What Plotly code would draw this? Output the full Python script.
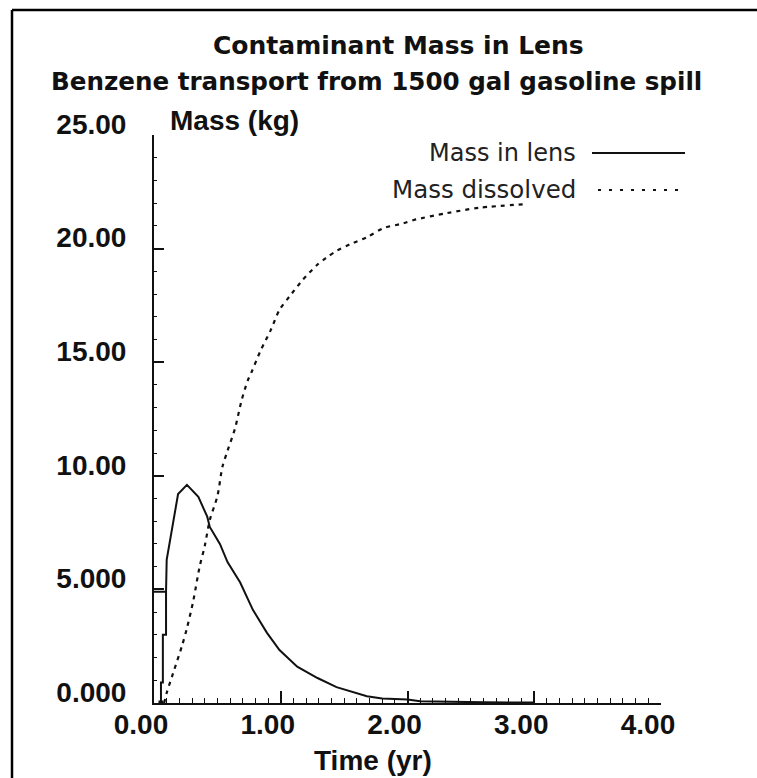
import plotly.graph_objects as go

# ---- data ----
lens_t = [0.055, 0.055, 0.07, 0.07, 0.095, 0.095, 0.0, 0.095, 0.10, 0.15, 0.19, 0.26,
          0.35, 0.42, 0.44, 0.52, 0.58, 0.68, 0.78, 0.89, 0.99, 1.13, 1.29, 1.44,
          1.57, 1.68, 1.80, 2.00, 2.10, 2.30, 2.60, 3.00]
lens_v = [0.0, 0.9, 0.9, 3.0, 3.0, 4.9, 4.9, 4.9, 6.3, 7.9, 9.2, 9.6,
          9.07, 8.2, 7.75, 7.0, 6.2, 5.3, 4.1, 3.1, 2.33, 1.6, 1.1, 0.7,
          0.5, 0.3, 0.2, 0.15, 0.08, 0.05, 0.03, 0.02]

diss_t = [0.08, 0.10, 0.15, 0.22, 0.26, 0.31, 0.36, 0.40, 0.44, 0.50, 0.54, 0.58,
          0.64, 0.69, 0.74, 0.77, 0.84, 0.92, 0.99, 1.07, 1.17, 1.29, 1.36, 1.44,
          1.55, 1.68, 1.81, 1.96, 2.05, 2.31, 2.57, 2.95]
diss_v = [0.0, 0.44, 1.3, 2.5, 3.3, 4.5, 6.0, 6.9, 8.05, 9.1, 10.4, 11.1,
          12.1, 13.3, 14.2, 14.57, 15.5, 16.4, 17.3, 17.9, 18.6, 19.3, 19.6, 19.9,
          20.2, 20.5, 20.9, 21.1, 21.26, 21.56, 21.8, 21.96]

x_tick_vals = [0, 1, 2, 3, 4]
x_tick_text = ["0.00", "1.00", "2.00", "3.00", "4.00"]
y_tick_vals = [0, 5, 10, 15, 20, 25]
y_tick_text = ["0.000", "5.000", "10.00", "15.00", "20.00", "25.00"]

title_lines = ["Contaminant Mass in Lens",
               "Benzene transport from 1500 gal gasoline spill"]
x_title = "Time (yr)"
y_title = "Mass (kg)"
series_names = ["Mass in lens", "Mass dissolved"]

# ---- styling ----
TICK_FONT = "Liberation Sans, Arial, sans-serif"
TITLE_FONT = "DejaVu Sans, Verdana, sans-serif"
INK = "#111111"

fig = go.Figure()
fig.add_trace(go.Scatter(x=lens_t, y=lens_v, mode="lines", name=series_names[0],
                         line=dict(color=INK, width=2), showlegend=False))
fig.add_trace(go.Scatter(x=diss_t, y=diss_v, mode="lines", name=series_names[1],
                         line=dict(color=INK, width=2.2, dash="4px,5px",
                                   shape="spline", smoothing=0.8),
                         showlegend=False))
fig.add_trace(go.Scatter(x=[lens_t[0]], y=[lens_v[0]], mode="markers",
                         marker=dict(symbol="square", size=5, color=INK),
                         showlegend=False, hoverinfo="skip"))

axis_common = dict(showgrid=False, zeroline=False, showline=True, linecolor=INK,
                   linewidth=2, ticks="inside", tickcolor=INK, tickwidth=1.5,
                   tickfont=dict(family=TICK_FONT, size=28, color=INK, weight="bold"))

fig.update_xaxes(range=[0, 4], tickvals=x_tick_vals, ticktext=x_tick_text,
                 ticklen=12, ticklabelshift=-13, ticklabelstandoff=-5,
                 minor=dict(ticks="inside", dtick=0.1, ticklen=5, tickcolor=INK, tickwidth=1.2),
                 **axis_common)
fig.update_yaxes(range=[0, 25], tickvals=y_tick_vals, ticktext=y_tick_text,
                 ticklen=10, ticklabelshift=-11, ticklabelstandoff=20,
                 minor=dict(ticks="inside", dtick=1, ticklen=3, tickcolor=INK, tickwidth=1.2),
                 **axis_common)

L, R, T, B = 154, 96, 135, 75
W, H = 757, 778
pw, ph = W - L - R, H - T - B

def px(xp):
    return (xp - L) / pw

def py(yp):
    return (H - B - yp) / ph

annotations = [
    dict(text=title_lines[0], x=px(398), y=py(45), xref="paper", yref="paper",
         xanchor="center", yanchor="middle", showarrow=False,
         font=dict(family=TITLE_FONT, size=25, color=INK, weight="bold")),
    dict(text=title_lines[1], x=px(376), y=py(81), xref="paper", yref="paper",
         xanchor="center", yanchor="middle", showarrow=False,
         font=dict(family=TITLE_FONT, size=24.6, color=INK, weight="bold")),
    dict(text=y_title, x=px(168), y=py(121), xref="paper", yref="paper",
         xanchor="left", yanchor="middle", showarrow=False,
         font=dict(family=TICK_FONT, size=28, color=INK, weight="bold")),
    dict(text=x_title, x=px(373), y=py(760), xref="paper", yref="paper",
         xanchor="center", yanchor="middle", showarrow=False,
         font=dict(family=TICK_FONT, size=28, color=INK, weight="bold")),
    dict(text=series_names[0], x=px(578), y=py(153), xref="paper", yref="paper",
         xanchor="right", yanchor="middle", showarrow=False,
         font=dict(family=TITLE_FONT, size=24, color="#222222")),
    dict(text=series_names[1], x=px(578), y=py(189), xref="paper", yref="paper",
         xanchor="right", yanchor="middle", showarrow=False,
         font=dict(family=TITLE_FONT, size=24.5, color="#222222")),
]

shapes = [
    # outer frame (top and left edges visible in the picture)
    dict(type="line", xref="paper", yref="paper", x0=px(12), x1=px(760),
         y0=py(10), y1=py(10), line=dict(color="black", width=2.5)),
    dict(type="line", xref="paper", yref="paper", x0=px(12), x1=px(12),
         y0=py(10), y1=py(780), line=dict(color="black", width=2.5)),
    # legend samples
    dict(type="line", xref="paper", yref="paper", x0=px(592), x1=px(685),
         y0=py(153), y1=py(153), line=dict(color=INK, width=2)),
    dict(type="line", xref="paper", yref="paper", x0=px(598), x1=px(686),
         y0=py(190), y1=py(190), line=dict(color=INK, width=2, dash="3px,8px")),
]

fig.update_layout(width=W, height=H, margin=dict(l=L, r=R, t=T, b=B),
                  paper_bgcolor="white", plot_bgcolor="white",
                  annotations=annotations, shapes=shapes, showlegend=False)

fig.write_html("out.html")
